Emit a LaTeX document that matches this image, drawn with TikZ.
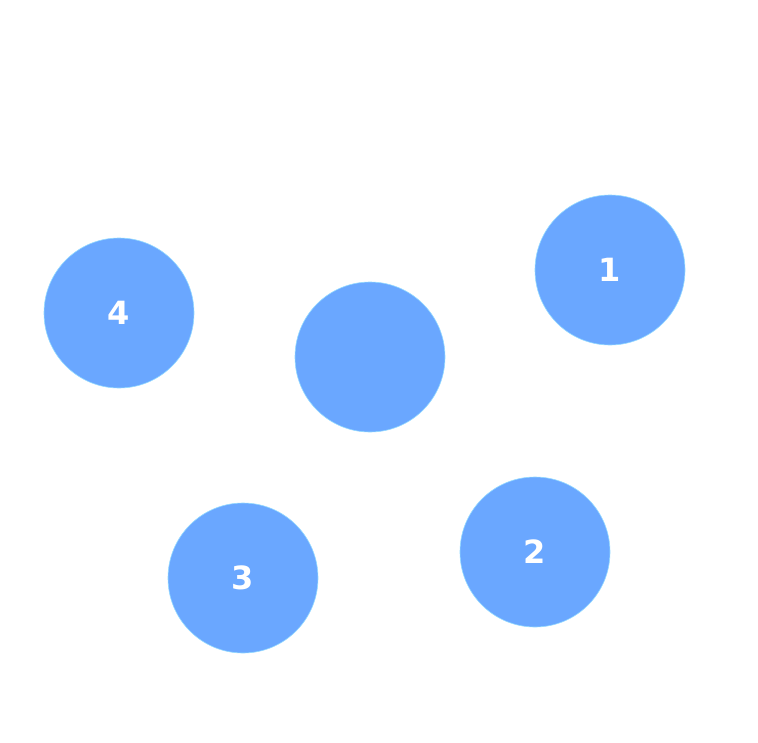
\documentclass[tikz,border=0pt]{standalone}
\usepackage{fontspec}
\setmainfont{DejaVu Sans}
\definecolor{ballblue}{RGB}{106,167,255}
\begin{document}
\begin{tikzpicture}[x=1pt,y=-1pt,
  ball/.style={circle,fill=ballblue,draw=ballblue!70!cyan!60,line width=0.6pt,minimum size=150pt,inner sep=0pt,text=white,font=\fontsize{32}{32}\selectfont\bfseries}]
\useasboundingbox[fill=white] (0,0) rectangle (758,742);
\node[ball] (c) at (370,357) {};
\node[ball] (n1) at (610,270) {1};
\node[ball] (n2) at (535,552) {2};
\node[ball] (n3) at (243,578) {3};
\node[ball] (n4) at (119,313) {4};
\end{tikzpicture}
\end{document}
